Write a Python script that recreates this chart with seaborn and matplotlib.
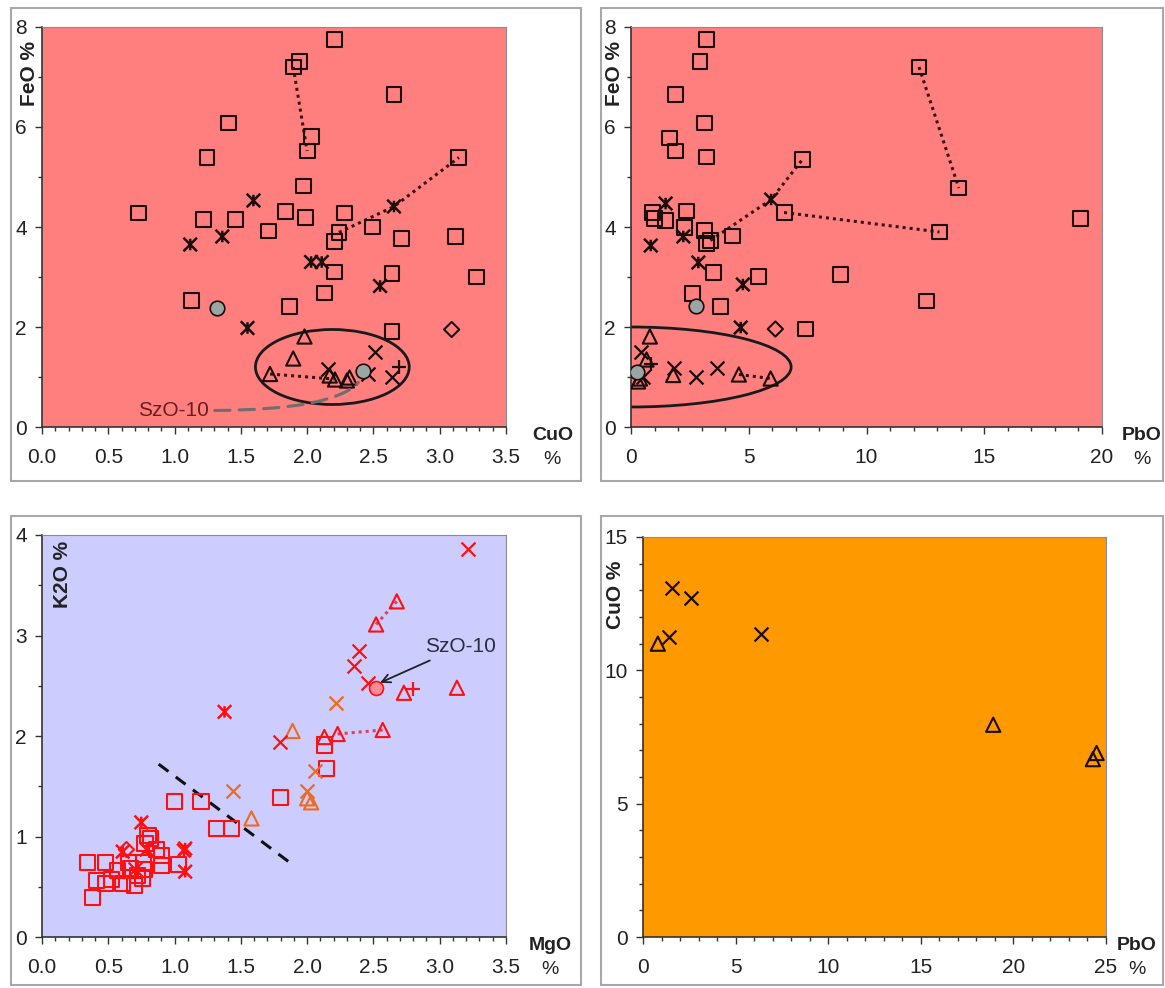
import matplotlib
matplotlib.use("Agg")
import matplotlib.pyplot as plt
import seaborn as sns
from matplotlib.path import Path
from matplotlib.patches import Ellipse, Rectangle
from matplotlib.ticker import MultipleLocator, FormatStrFormatter

# ---------------- panel 1: CuO vs FeO ----------------
p1_sq_cuo = [2.205, 1.945, 1.895, 2.655, 1.41, 2.03, 2.0, 1.245, 3.145, 1.97, 0.725, 1.84, 2.28, 1.22, 1.46,
             1.99, 2.495, 1.71, 2.24, 2.205, 3.12, 2.71, 2.205, 2.64, 3.275, 2.13, 1.13, 1.87, 2.64]
p1_sq_feo = [7.75, 7.31, 7.2, 6.65, 6.08, 5.81, 5.52, 5.39, 5.39, 4.82, 4.28, 4.31, 4.28, 4.15, 4.15,
             4.19, 4.0, 3.92, 3.89, 3.71, 3.81, 3.77, 3.1, 3.07, 3.0, 2.68, 2.53, 2.41, 1.91]
p1_ast_cuo = [1.595, 2.655, 1.118, 1.36, 2.03, 2.11, 2.55, 1.55]
p1_ast_feo = [4.53, 4.41, 3.65, 3.81, 3.3, 3.3, 2.82, 1.98]
p1_circ_cuo = [1.32, 2.425]
p1_circ_feo = [2.38, 1.12]
p1_dia_cuo = [3.09]
p1_dia_feo = [1.95]
p1_tri_cuo = [1.98, 1.895, 1.72, 2.17, 2.21, 2.30, 2.32]
p1_tri_feo = [1.81, 1.37, 1.06, 1.03, 0.95, 0.93, 0.99]
p1_x_cuo = [2.51, 2.16, 2.64, 2.46]
p1_x_feo = [1.5, 1.17, 1.0, 1.07]
p1_plus_cuo = [2.69]
p1_plus_feo = [1.2]
p1_ties = [([1.895, 2.0], [7.2, 5.52]),
           ([2.24, 2.655, 3.145], [3.89, 4.41, 5.39]),
           ([1.72, 2.2], [1.06, 0.96])]

# ---------------- panel 2: PbO vs FeO ----------------
p2_sq_pbo = [3.21, 2.93, 12.23, 1.9, 3.13, 1.63, 1.9, 3.21, 7.28, 13.92, 0.92, 1.0, 1.47, 2.37, 2.29,
             6.5, 19.07, 3.13, 3.21, 3.37, 4.32, 13.1, 3.5, 5.4, 8.88, 2.61, 3.81, 12.55, 7.4]
p2_sq_feo = [7.75, 7.31, 7.2, 6.65, 6.08, 5.78, 5.52, 5.4, 5.35, 4.78, 4.29, 4.17, 4.13, 4.32, 3.99,
             4.29, 4.17, 3.93, 3.67, 3.73, 3.82, 3.9, 3.09, 3.01, 3.05, 2.67, 2.41, 2.52, 1.96]
p2_ast_pbo = [1.47, 5.95, 2.22, 0.84, 2.86, 4.75, 4.66]
p2_ast_feo = [4.47, 4.55, 3.81, 3.63, 3.29, 2.85, 1.99]
p2_circ_pbo = [2.78, 0.24]
p2_circ_feo = [2.41, 1.11]
p2_dia_pbo = [6.13]
p2_dia_feo = [1.96]
p2_tri_pbo = [0.8, 0.66, 0.3, 0.38, 1.79, 4.58, 5.93]
p2_tri_feo = [1.81, 1.35, 0.91, 0.97, 1.04, 1.05, 0.97]
p2_x_pbo = [0.42, 1.84, 2.78, 3.67, 0.5]
p2_x_feo = [1.51, 1.19, 1.0, 1.19, 1.0]
p2_plus_pbo = [0.87]
p2_plus_feo = [1.27]
p2_ties = [([12.23, 13.92], [7.2, 4.78]),
           ([3.37, 5.95, 7.28], [3.73, 4.55, 5.35]),
           ([6.5, 13.1], [4.29, 3.9]),
           ([4.58, 5.93], [1.05, 0.97])]

# ---------------- panel 3: MgO vs K2O ----------------
p3_sq_mgo = [0.344, 0.478, 0.38, 0.41, 0.478, 0.525, 0.567, 0.609, 0.65, 0.665, 0.698, 0.72, 0.757, 0.763,
             0.77, 0.777, 0.80, 0.82, 0.866, 0.90, 0.90, 1.0, 1.03, 1.2, 1.315, 1.43, 1.80, 2.13, 2.145]
p3_sq_k2o = [0.74, 0.74, 0.39, 0.56, 0.53, 0.57, 0.66, 0.53, 0.74, 0.68, 0.51, 0.61, 0.58, 0.74,
             0.67, 0.93, 1.01, 0.98, 0.87, 0.81, 0.71, 1.35, 0.72, 1.35, 1.08, 1.08, 1.39, 1.91, 1.68]
p3_ast_mgo = [0.749, 0.609, 0.79, 1.07, 1.08, 1.08, 1.377]
p3_ast_k2o = [1.14, 0.85, 0.87, 0.86, 0.88, 0.65, 2.24]
p3_dia_mgo = [0.637]
p3_dia_k2o = [0.87]
p3_x_mgo = [1.796, 2.35, 2.39, 2.46, 3.21, 0.70]
p3_x_k2o = [1.94, 2.70, 2.85, 2.53, 3.86, 0.68]
p3_plus_mgo = [2.80]
p3_plus_k2o = [2.47]
p3_circ_mgo = [2.52]
p3_circ_k2o = [2.48]
p3_tri_mgo = [2.676, 2.52, 3.13, 2.73, 2.13, 2.23, 2.57]
p3_tri_k2o = [3.34, 3.11, 2.48, 2.43, 1.99, 2.02, 2.06]
p3_otri_mgo = [1.89, 1.58, 2.0, 2.03]
p3_otri_k2o = [2.05, 1.18, 1.38, 1.34]
p3_ox_mgo = [2.215, 1.44, 2.056, 2.0]
p3_ox_k2o = [2.33, 1.45, 1.65, 1.45]
p3_ties = [([2.52, 2.676], [3.11, 3.34]),
           ([2.23, 2.57], [2.02, 2.06])]
p3_divider = ([0.88, 1.88], [1.72, 0.73])

# ---------------- panel 4: PbO vs CuO ----------------
p4_x_pbo = [1.55, 2.6, 1.39, 6.38]
p4_x_cuo = [13.1, 12.72, 11.26, 11.38]
p4_tri_pbo = [0.8, 18.91, 24.49, 24.29]
p4_tri_cuo = [11.0, 7.96, 6.9, 6.67]

W, H = 1165, 988
STAR = Path([(-1, -1), (1, 1), (-1, 1), (1, -1), (0, -0.85), (0, 0.85)],
            [Path.MOVETO, Path.LINETO, Path.MOVETO, Path.LINETO, Path.MOVETO, Path.LINETO])

sns.set_theme(style="white")
plt.rcParams["font.family"] = ["Liberation Sans", "DejaVu Sans"]

fig = plt.figure(figsize=(W / 100, H / 100), dpi=100)


def px_axes(x0, x1, ytop, ybot):
    return fig.add_axes([x0 / W, 1 - ybot / H, (x1 - x0) / W, (ybot - ytop) / H])


def frame(x0, x1, y0, y1):
    fig.add_artist(Rectangle((x0 / W, 1 - y1 / H), (x1 - x0) / W, (y1 - y0) / H,
                             transform=fig.transFigure, fill=False, ec="#a8a8a8", lw=1.5))


def open_pts(ax, x, y, marker, color, s=115, lw=1.5, face="none"):
    sns.scatterplot(x=x, y=y, ax=ax, marker=marker, s=s, facecolor=face,
                    edgecolor=color, linewidth=lw, zorder=3)


def line_pts(ax, x, y, marker, color, s=100, lw=1.6):
    sns.scatterplot(x=x, y=y, ax=ax, marker=marker, s=s, color=color, linewidth=lw, zorder=3)


def ties(ax, segs, color, lw=2.2):
    for xs, ys in segs:
        sns.lineplot(x=xs, y=ys, ax=ax, sort=False, estimator=None, color=color,
                     linestyle=(0, (1, 1.3)), linewidth=lw, zorder=2)


def style(ax, bg, xmax, xmaj, xmin, ymax, ymaj, ymin, xfmt, xlab, ylab, xlab_x, ylab_pos):
    ax.set_facecolor(bg)
    ax.set_xlim(0, xmax)
    ax.set_ylim(0, ymax)
    ax.xaxis.set_major_locator(MultipleLocator(xmaj))
    ax.xaxis.set_minor_locator(MultipleLocator(xmin))
    ax.yaxis.set_major_locator(MultipleLocator(ymaj))
    ax.yaxis.set_minor_locator(MultipleLocator(ymin))
    ax.xaxis.set_major_formatter(FormatStrFormatter(xfmt))
    ax.yaxis.set_major_formatter(FormatStrFormatter("%d"))
    for s in ["top", "right"]:
        ax.spines[s].set_color("#8c8c8c")
        ax.spines[s].set_linewidth(0.8)
    for s in ["left", "bottom"]:
        ax.spines[s].set_color("#333333")
        ax.spines[s].set_linewidth(1.2)
    ax.tick_params(which="both", direction="out", color="#333333", labelcolor="#222222",
                   labelsize=15, bottom=True, left=True)
    ax.tick_params(which="major", length=5, width=1)
    ax.tick_params(which="minor", length=3, width=1)
    ax.tick_params(axis="x", pad=10)
    ax.tick_params(axis="y", pad=6)
    ax.set_xlabel("")
    ax.set_ylabel("")
    ax.text(xlab_x, -0.02, xlab, transform=ax.transAxes, ha="center", va="center",
            fontsize=14, fontweight="bold", color="#222222")
    ax.text(xlab_x, -0.08, "%", transform=ax.transAxes, ha="center", va="center",
            fontsize=14, color="#222222")
    ax.text(ylab_pos[0], ylab_pos[1], ylab, transform=ax.transAxes, ha="center", va="top",
            rotation=90, fontsize=15, fontweight="bold", color="#222222")


frame(11, 581, 8, 481)
frame(601, 1163, 8, 481)
frame(11, 581, 516, 985)
frame(601, 1163, 516, 985)

DARK = "#1c0c0c"

# panel 1
ax1 = px_axes(42, 506, 27, 427)
ties(ax1, p1_ties, "#3a1414")
open_pts(ax1, p1_sq_cuo, p1_sq_feo, "s", DARK)
open_pts(ax1, p1_ast_cuo, p1_ast_feo, STAR, DARK, s=95, lw=1.8)
open_pts(ax1, p1_tri_cuo, p1_tri_feo, "^", DARK, s=105)
open_pts(ax1, p1_dia_cuo, p1_dia_feo, "D", DARK, s=60)
line_pts(ax1, p1_x_cuo, p1_x_feo, "x", DARK)
line_pts(ax1, p1_plus_cuo, p1_plus_feo, "+", DARK)
open_pts(ax1, p1_circ_cuo, p1_circ_feo, "o", DARK, s=110, lw=1.2, face="#9aa6a4")
ax1.add_patch(Ellipse((2.19, 1.2), 1.16, 1.5, fill=False, ec="#1a1a1a", lw=2, zorder=2))
ax1.annotate("SzO-10", xy=(2.41, 0.98), xytext=(0.99, 0.33), fontsize=15, color="#6a1e1e",
             ha="center", va="center",
             arrowprops=dict(arrowstyle="-", linestyle=(0, (5, 3)), color="#6e6e6e", lw=2.2,
                             connectionstyle="angle3,angleA=0,angleB=60", relpos=(1.0, 0.5),
                             shrinkA=2, shrinkB=4))
style(ax1, "#ff7f7f", 3.5, 0.5, 0.1, 8, 2, 1, "%.1f", "CuO", "FeO %", 1.10, (-0.028, 0.965))

# panel 2
ax2 = px_axes(631, 1102, 27, 427)
ties(ax2, p2_ties, "#3a1414")
open_pts(ax2, p2_sq_pbo, p2_sq_feo, "s", DARK)
open_pts(ax2, p2_ast_pbo, p2_ast_feo, STAR, DARK, s=95, lw=1.8)
open_pts(ax2, p2_tri_pbo, p2_tri_feo, "^", DARK, s=105)
open_pts(ax2, p2_dia_pbo, p2_dia_feo, "D", DARK, s=60)
line_pts(ax2, p2_x_pbo, p2_x_feo, "x", DARK)
line_pts(ax2, p2_plus_pbo, p2_plus_feo, "+", DARK)
open_pts(ax2, p2_circ_pbo, p2_circ_feo, "o", DARK, s=110, lw=1.2, face="#9aa6a4")
ax2.add_patch(Ellipse((0.0, 1.2), 13.6, 1.6, fill=False, ec="#1a1a1a", lw=2, zorder=2))
style(ax2, "#ff7f7f", 20, 5, 1, 8, 2, 1, "%d", "PbO", "FeO %", 1.084, (-0.034, 0.965))

# panel 3
RED = "#ff1010"
ORANGE = "#f06a1e"
ax3 = px_axes(42, 506, 535, 937)
ties(ax3, p3_ties, "#e0405a")
sns.lineplot(x=p3_divider[0], y=p3_divider[1], ax=ax3, sort=False, estimator=None,
             color="#111111", linestyle=(0, (4, 3)), linewidth=2.2, zorder=2)
open_pts(ax3, p3_sq_mgo, p3_sq_k2o, "s", RED, s=120)
open_pts(ax3, p3_ast_mgo, p3_ast_k2o, STAR, RED, s=95, lw=1.8)
open_pts(ax3, p3_dia_mgo, p3_dia_k2o, "D", RED, s=60)
open_pts(ax3, p3_tri_mgo, p3_tri_k2o, "^", RED, s=105)
open_pts(ax3, p3_otri_mgo, p3_otri_k2o, "^", ORANGE, s=105)
line_pts(ax3, p3_x_mgo, p3_x_k2o, "x", RED)
line_pts(ax3, p3_ox_mgo, p3_ox_k2o, "x", ORANGE)
line_pts(ax3, p3_plus_mgo, p3_plus_k2o, "+", RED)
open_pts(ax3, p3_circ_mgo, p3_circ_k2o, "o", RED, s=100, lw=1.2, face="#ff8a9a")
ax3.annotate("SzO-10", xy=(2.55, 2.53), xytext=(3.16, 2.89), fontsize=15, color="#2c2c3c",
             ha="center", va="center",
             arrowprops=dict(arrowstyle="->", color="#222222", lw=1.3, shrinkA=2, shrinkB=0))
style(ax3, "#ccccff", 3.5, 0.5, 0.1, 4, 1, 0.5, "%.1f", "MgO", "K2O %", 1.095, (0.045, 0.985))

# panel 4
ax4 = px_axes(643, 1106, 537, 937)
line_pts(ax4, p4_x_pbo, p4_x_cuo, "x", DARK)
open_pts(ax4, p4_tri_pbo, p4_tri_cuo, "^", DARK, s=105)
style(ax4, "#ff9900", 25, 5, 1, 15, 5, 1, "%d", "PbO", "CuO %", 1.067, (-0.06, 0.94))

fig.savefig("out.png", dpi=100)
